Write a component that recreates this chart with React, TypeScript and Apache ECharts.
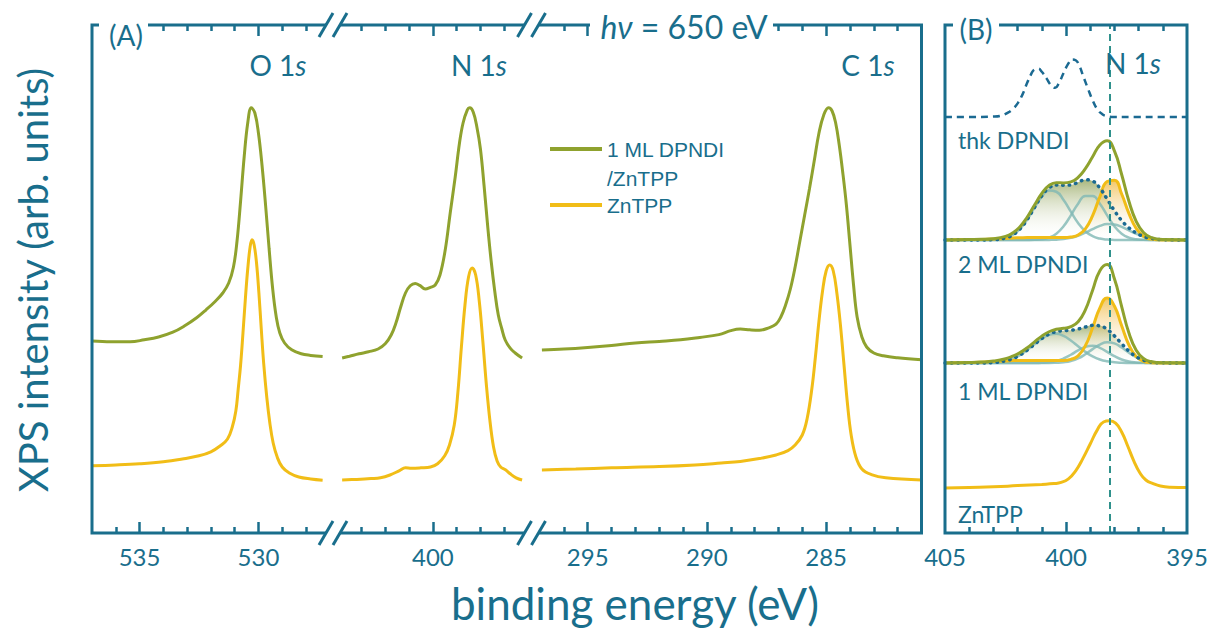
import React, { useEffect, useRef } from "react";
import * as echarts from "echarts";

const TEAL = "#196e8c";
const GREEN = "#8fa22e";
const YELLOW = "#f1bd17";
const DOTTED_BLUE = "#1b6a92";
const COMPONENT = "rgba(128,184,180,0.8)";
const REF_LINE = "#2f918c";
const FONT = "Lato, 'Noto Sans', sans-serif";
const LEGEND_FONT = "'Liberation Sans', Arial, sans-serif";

const NAME_DPNDI = "1 ML DPNDI\n/ZnTPP";
const NAME_ZNTPP = "ZnTPP";

// ---------- Panel A: [binding energy (eV), intensity (arb. units)] ----------
const o1sDpndi = [
  [537.0, 48.0], [536.2, 47.8], [535.4, 47.8], [534.8, 48.3], [534.2, 49.0], [533.6, 50.2],
  [533.1, 51.8], [532.6, 53.8], [532.2, 55.8], [531.8, 58.0], [531.5, 60.0], [531.25, 62.5],
  [531.05, 66.5], [530.9, 73], [530.75, 83], [530.6, 94], [530.45, 102.5], [530.3, 106.3],
  [530.15, 105], [530.0, 100], [529.85, 92], [529.7, 82], [529.55, 71], [529.4, 61],
  [529.25, 54], [529.1, 50], [528.9, 47.5], [528.6, 45.8], [528.2, 44.8], [527.8, 44.4], [527.3, 44.1],
];
const o1sZntpp = [
  [537.0, 16.8], [536.0, 17.0], [535.0, 17.3], [534.0, 17.8], [533.2, 18.5], [532.5, 19.3],
  [532.0, 20.3], [531.6, 21.8], [531.3, 23.5], [531.1, 26.5], [530.95, 30.5], [530.85, 36],
  [530.75, 42], [530.65, 50], [530.55, 58.5], [530.45, 66], [530.35, 71.5], [530.27, 73.3],
  [530.18, 72], [530.08, 67.5], [529.98, 60], [529.88, 51], [529.78, 42.5], [529.65, 34],
  [529.52, 27.5], [529.38, 22.5], [529.2, 18.8], [529.0, 16.5], [528.7, 15.0], [528.3, 14.0],
  [527.8, 13.5], [527.3, 13.2],
];
const n1sDpndi = [
  [403.81, 43.75], [403.5, 44.2], [403.1, 44.8], [402.7, 45.3], [402.3, 46.0], [402.0, 47.3],
  [401.75, 49.5], [401.55, 52.5], [401.35, 56.5], [401.15, 60.0], [400.95, 61.8], [400.74, 62.4],
  [400.55, 61.9], [400.32, 61.0], [400.1, 61.4], [399.9, 62.0], [399.7, 64.5], [399.48, 70.75],
  [399.27, 80], [399.06, 89], [398.88, 97.5], [398.73, 102.5], [398.55, 105.8], [398.45, 106.3],
  [398.3, 105.2], [398.15, 101.5], [398.0, 96], [397.85, 87], [397.7, 77], [397.55, 68],
  [397.4, 60.5], [397.25, 54.5], [397.1, 51], [396.96, 48.25], [396.75, 46.2], [396.54, 45],
  [396.25, 43.75],
];
const n1sZntpp = [
  [403.81, 13.25], [403.2, 13.4], [402.6, 13.6], [402.2, 13.8], [401.8, 14.5], [401.4, 15.6],
  [401.15, 16.3], [400.9, 16.2], [400.5, 16.3], [400.1, 16.5], [399.8, 17.3], [399.5, 19.3],
  [399.3, 22], [399.1, 27], [398.95, 35], [398.8, 46.5], [398.65, 57], [398.5, 64],
  [398.35, 66.25], [398.2, 64.5], [398.05, 58], [397.9, 48], [397.75, 37], [397.6, 28],
  [397.45, 21.5], [397.3, 18], [397.15, 16.5], [396.95, 15.8], [396.75, 14.8], [396.5, 13.8],
  [396.25, 13.25],
];
const c1sDpndi = [
  [296.92, 45.75], [296.0, 46.0], [295.0, 46.4], [294.0, 46.9], [293.0, 47.5], [292.0, 47.9],
  [291.1, 48.3], [290.3, 48.9], [289.5, 49.6], [289.0, 50.6], [288.6, 51.0], [288.2, 50.8],
  [287.8, 50.7], [287.4, 51.3], [287.1, 52.2], [286.9, 54.0], [286.7, 57.0], [286.5, 61],
  [286.3, 66.5], [286.1, 73], [285.9, 79.5], [285.7, 86], [285.5, 93], [285.3, 100],
  [285.1, 104.5], [284.9, 106.3], [284.75, 105.5], [284.6, 102.5], [284.45, 97], [284.3, 90],
  [284.15, 82], [284.0, 72], [283.85, 62], [283.7, 54], [283.5, 49], [283.3, 46.5],
  [283.0, 45.0], [282.6, 44.3], [282.0, 43.8], [281.0, 43.3],
];
const c1sZntpp = [
  [296.92, 15.75], [295.5, 16.0], [294.0, 16.3], [292.0, 16.6], [290.5, 17.0], [289.4, 17.5],
  [288.6, 17.9], [287.8, 18.6], [287.1, 19.5], [286.6, 20.6], [286.3, 22.0], [286.0, 24.5],
  [285.8, 28.5], [285.6, 36], [285.45, 44], [285.3, 53], [285.15, 60.5], [285.0, 65.5],
  [284.85, 67], [284.7, 65.5], [284.55, 60], [284.4, 52], [284.25, 42], [284.1, 32],
  [283.95, 24.5], [283.75, 19], [283.5, 16.0], [283.1, 14.6], [282.5, 13.8], [281.0, 13.25],
];

// axis ranges (eV) for the broken axis of panel A and for panel B
const o1sRange = [527.2, 537];
const n1sRange = [396.17, 403.9];
const c1sRange = [281, 297];
const detailRange = [395, 405];

// tick values
const o1sLabels = [530, 535];
const o1sMinor = [528, 529, 531, 532, 533, 534, 536];
const n1sLabels = [400];
const n1sMinor = [397, 398, 399, 401, 402, 403];
const c1sLabels = [285, 290, 295];
const c1sMinor = [282, 283, 284, 286, 287, 288, 289, 291, 292, 293, 294, 296];
const detailLabels = [395, 400, 405];
const detailMajor = [400];
const detailMinor = [396, 397, 398, 399, 401, 402, 403, 404];

// ---------- Panel B: N 1s detail (intensity above each baseline) ----------
const energyFit = [405, 404, 403.5, 403, 402.5, 402.2, 401.9, 401.6, 401.3, 401.0, 400.7, 400.4, 400.1,
  399.8, 399.5, 399.2, 398.9, 398.6, 398.3, 398.0, 397.7, 397.4, 397.1, 396.8, 396.5, 396, 395];

const ml2Comp1 = [0, 0, 0.01, 0.08, 0.51, 1.29, 2.78, 5.14, 8.09, 10.84, 12.39, 12.06, 10.01, 7.08, 4.26, 2.19, 0.96, 0.36, 0.11, 0.03, 0, 0, 0, 0, 0, 0, 0];
const ml2Comp2 = [0, 0, 0, 0, 0, 0, 0, 0.01, 0.05, 0.19, 0.6, 1.58, 3.43, 6.15, 9.08, 11.03, 11.03, 9.08, 6.15, 3.43, 1.58, 0.6, 0.19, 0.05, 0.01, 0, 0];
const ml2Comp3 = [0, 0, 0, 0, 0, 0, 0, 0, 0, 0, 0.03, 0.09, 0.24, 0.54, 1.07, 1.83, 2.73, 3.53, 3.97, 3.88, 3.29, 2.43, 1.56, 0.86, 0.42, 0.09, 0];
const ml2Sum = [0, 0, 0.01, 0.08, 0.51, 1.29, 2.78, 5.15, 8.14, 11.03, 13.02, 13.73, 13.68, 13.77, 14.41, 15.05, 14.72, 12.97, 10.23, 7.34, 4.87, 3.03, 1.75, 0.91, 0.43, 0.09, 0];
const ml2Zn = [0, 0.1, 0.15, 0.25, 0.4, 0.5, 0.55, 0.6, 0.6, 0.6, 0.6, 0.6, 0.6, 0.75, 1.25, 2.8, 6.1, 10.8, 14.6, 14.95, 11.5, 6.65, 2.9, 0.95, 0.23, 0.01, 0];
const ml2Total = [0, 0.1, 0.16, 0.33, 0.91, 1.79, 3.33, 5.75, 8.74, 11.63, 13.62, 14.33, 14.28, 14.52, 15.66, 17.85, 20.82, 23.77, 24.83, 22.29, 16.37, 9.68, 4.65, 1.86, 0.66, 0.1, 0];

const ml1Comp1 = [0, 0, 0.02, 0.13, 0.55, 1.1, 1.99, 3.23, 4.67, 6.06, 7.02, 7.29, 6.77, 5.62, 4.18, 2.78, 1.66, 0.88, 0.42, 0.18, 0.07, 0.02, 0, 0, 0, 0, 0];
const ml1Comp2 = [0, 0, 0, 0, 0, 0, 0, 0, 0.01, 0.06, 0.19, 0.5, 1.12, 2.06, 3.16, 4.03, 4.29, 3.79, 2.79, 1.71, 0.87, 0.37, 0.13, 0.04, 0, 0, 0];
const ml1Comp3 = [0, 0, 0, 0, 0, 0, 0, 0, 0, 0, 0, 0.06, 0.19, 0.51, 1.15, 2.18, 3.46, 4.62, 5.19, 4.9, 3.88, 2.59, 1.45, 0.68, 0.27, 0.04, 0];
const ml1Sum = [0, 0, 0.02, 0.13, 0.55, 1.1, 1.99, 3.23, 4.68, 6.12, 7.21, 7.85, 8.08, 8.19, 8.49, 8.99, 9.41, 9.29, 8.4, 6.79, 4.82, 2.98, 1.58, 0.72, 0.27, 0.04, 0];
const ml1Zn = [0, 0.1, 0.2, 0.35, 0.5, 0.6, 0.6, 0.6, 0.6, 0.6, 0.6, 0.6, 0.6, 0.9, 1.8, 4.3, 8.8, 13.8, 16.25, 14.25, 9.3, 4.5, 1.62, 0.43, 0.09, 0, 0];
const ml1Total = [0, 0.1, 0.22, 0.48, 1.05, 1.7, 2.59, 3.83, 5.28, 6.72, 7.81, 8.45, 8.68, 9.09, 10.29, 13.29, 18.21, 23.09, 24.65, 21.04, 14.12, 7.48, 3.2, 1.15, 0.36, 0.04, 0];

const energyThk = [405, 404, 403, 402.7, 402.4, 402.2, 402.0, 401.8, 401.6, 401.45, 401.3, 401.15, 401.0, 400.8,
  400.6, 400.45, 400.3, 400.1, 399.9, 399.75, 399.6, 399.45, 399.3, 399.1, 398.9, 398.7, 398.5, 398.3, 398, 397, 396, 395];
const thkValues = [0, 0, 0.1, 0.3, 1.1, 2.0, 3.4, 5.6, 8.6, 10.6, 11.9, 12.1, 11.3, 9.6, 7.8, 7.3, 8.4, 11.0, 13.4,
  14.4, 14.2, 12.8, 10.4, 7.2, 4.2, 1.9, 0.7, 0.2, 0, 0, 0, 0];

const energyZn = [405, 404, 403, 402, 401, 400.5, 400.2, 399.9, 399.6, 399.3, 399.0, 398.7, 398.45, 398.2,
  397.95, 397.7, 397.45, 397.2, 396.95, 396.7, 396.4, 396.1, 395.7, 395];
const znValues = [0, 0.15, 0.3, 0.6, 0.9, 1.1, 1.4, 2.3, 4.3, 7.4, 11.0, 14.6, 16.5, 16.8, 16.2, 14.0, 10.5,
  6.8, 3.8, 2.0, 1.1, 0.5, 0.2, 0.1];

// vertical stacking offsets of the panel B spectra (arb. units)
const offsetThk = 104;
const offset2ml = 73.25;
const offset1ml = 42.5;
const offsetZn = 11.25;
const n1sReference = 398.2;

const Y_MAX = 127;

function shift(xs: number[], ys: number[], off: number) {
  return xs.map((x, i) => [x, ys[i] + off]);
}

const tickLine = { color: TEAL, width: 2.5 };

function xAxesFor(gridIndex: number, range: number[], majors: number[], minors: number[], labels: number[]) {
  const base: any = {
    type: "value", gridIndex, min: range[0], max: range[1], inverse: true,
    axisLine: { show: false, onZero: false }, splitLine: { show: false },
    minorTick: { show: false }, minorSplitLine: { show: false },
  };
  return [
    {
      ...base, position: "bottom",
      axisTick: { show: true, inside: true, length: 11, lineStyle: tickLine, customValues: majors },
      axisLabel: { show: true, customValues: labels, margin: 11, color: TEAL, fontFamily: FONT, fontSize: 24 },
    },
    {
      ...base, position: "bottom",
      axisTick: { show: true, inside: true, length: 6, lineStyle: tickLine, customValues: minors },
      axisLabel: { show: false },
    },
    {
      ...base, position: "top",
      axisTick: { show: true, inside: true, length: 11, lineStyle: tickLine, customValues: majors },
      axisLabel: { show: false },
    },
    {
      ...base, position: "top",
      axisTick: { show: true, inside: true, length: 6, lineStyle: tickLine, customValues: minors },
      axisLabel: { show: false },
    },
  ];
}

function lineSeries(name: string, grid: number, data: number[][], color: string, extra: any = {}) {
  return {
    type: "line", name, xAxisIndex: grid * 4, yAxisIndex: grid, data, symbol: "none", showSymbol: false,
    smooth: 0.4, color, lineStyle: { color, width: 3 }, silent: true, ...extra,
  };
}

function greenGrad() {
  return new echarts.graphic.LinearGradient(0, 0, 0, 1, [
    { offset: 0, color: "rgba(112,136,40,0.6)" },
    { offset: 1, color: "rgba(255,255,255,0)" },
  ]);
}
function yellowGrad() {
  return new echarts.graphic.LinearGradient(0, 0, 0, 1, [
    { offset: 0, color: "rgba(236,168,20,0.65)" },
    { offset: 1, color: "rgba(255,255,255,0)" },
  ]);
}

function fitSeries(prefix: string, comps: number[][], sum: number[], zn: number[], total: number[], off: number) {
  const g = 3;
  return [
    lineSeries(prefix + " DPNDI area", g, shift(energyFit, sum, off), GREEN, {
      lineStyle: { opacity: 0, width: 0 }, areaStyle: { origin: off, color: greenGrad(), opacity: 1 }, smooth: 0.5,
    }),
    ...comps.map((c, k) =>
      lineSeries(prefix + " component " + (k + 1), g, shift(energyFit, c, off), COMPONENT, {
        lineStyle: { color: COMPONENT, width: 2.5 }, smooth: 0.5,
      })
    ),
    lineSeries(prefix + " ZnTPP component", g, shift(energyFit, zn, off), YELLOW, {
      areaStyle: { origin: off, color: yellowGrad(), opacity: 1 }, smooth: 0.5,
    }),
    lineSeries(prefix + " DPNDI sum", g, shift(energyFit, sum, off), DOTTED_BLUE, {
      lineStyle: { color: DOTTED_BLUE, width: 3.5, type: [0.5, 6], cap: "round" }, smooth: 0.5,
    }),
    lineSeries(prefix + " measured", g, shift(energyFit, total, off), GREEN, { smooth: 0.5 }),
  ];
}

function txt(x: number, y: number, text: string, size: number, extra: any = {}, styleExtra: any = {}) {
  return {
    type: "text", z: 13, x, y, ...extra,
    style: {
      text, fill: TEAL, fontFamily: FONT, fontSize: size, align: "center", verticalAlign: "middle", ...styleExtra,
    },
  };
}

function richLabel(x: number, y: number, plain: string, italic: string, size: number, italicFirst = false) {
  const r = { fontSize: size, fontFamily: FONT, fill: TEAL };
  const i = { fontSize: size, fontFamily: FONT, fill: TEAL, fontStyle: "italic" };
  const text = italicFirst ? `{i|${italic}}{r|${plain}}` : `{r|${plain}}{i|${italic}}`;
  return txt(x, y, text, size, {}, { rich: { r, i } });
}

function breakMarks(cx: number) {
  const out: any[] = [];
  [25, 533].forEach((y) => {
    out.push({ type: "rect", z: 11, shape: { x: cx - 7, y: y - 3, width: 14, height: 6 }, style: { fill: "#fff" } });
    out.push({ type: "line", z: 12, shape: { x1: cx - 14, y1: y + 12, x2: cx, y2: y - 12 }, style: { stroke: TEAL, lineWidth: 3 } });
    out.push({ type: "line", z: 12, shape: { x1: cx, y1: y + 12, x2: cx + 14, y2: y - 12 }, style: { stroke: TEAL, lineWidth: 3 } });
  });
  return out;
}

function buildOption() {
  const gridBase = { top: 25, height: 508, containLabel: false, outerBoundsMode: "none", show: false };
  const grid = [
    { ...gridBase, left: 92, width: 233 },
    { ...gridBase, left: 340, width: 184 },
    { ...gridBase, left: 540, width: 381.5 },
    { ...gridBase, left: 945, width: 242 },
  ];
  const xAxis = [
    ...xAxesFor(0, o1sRange, o1sLabels, o1sMinor, o1sLabels),
    ...xAxesFor(1, n1sRange, n1sLabels, n1sMinor, n1sLabels),
    ...xAxesFor(2, c1sRange, c1sLabels, c1sMinor, c1sLabels),
    ...xAxesFor(3, detailRange, detailMajor, detailMinor, detailLabels),
  ];
  const yAxis = [0, 1, 2, 3].map((g) => ({ type: "value", gridIndex: g, min: 0, max: Y_MAX, show: false }));

  const series: any[] = [
    lineSeries(NAME_DPNDI, 0, o1sDpndi, GREEN),
    lineSeries(NAME_ZNTPP, 0, o1sZntpp, YELLOW),
    lineSeries(NAME_DPNDI, 1, n1sDpndi, GREEN),
    lineSeries(NAME_ZNTPP, 1, n1sZntpp, YELLOW),
    lineSeries(NAME_DPNDI, 2, c1sDpndi, GREEN),
    lineSeries(NAME_ZNTPP, 2, c1sZntpp, YELLOW),
    lineSeries("thk DPNDI", 3, shift(energyThk, thkValues, offsetThk), DOTTED_BLUE, {
      lineStyle: { color: DOTTED_BLUE, width: 2.5, type: [7, 5] }, smooth: 0.5,
    }),
    ...fitSeries("2 ML DPNDI", [ml2Comp1, ml2Comp2, ml2Comp3], ml2Sum, ml2Zn, ml2Total, offset2ml),
    ...fitSeries("1 ML DPNDI", [ml1Comp1, ml1Comp2, ml1Comp3], ml1Sum, ml1Zn, ml1Total, offset1ml),
    lineSeries(NAME_ZNTPP, 3, shift(energyZn, znValues, offsetZn), YELLOW, {
      smooth: 0.5,
      markLine: {
        silent: true, symbol: "none", animation: false,
        lineStyle: { color: REF_LINE, width: 2, type: [7, 5] },
        label: { show: false },
        data: [{ xAxis: n1sReference }],
      },
    }),
  ];

  const graphic: any[] = [
    { type: "rect", z: 10, shape: { x: 92, y: 25, width: 829.5, height: 508 }, style: { fill: "none", stroke: TEAL, lineWidth: 3 } },
    { type: "rect", z: 10, shape: { x: 945, y: 25, width: 242, height: 508 }, style: { fill: "none", stroke: TEAL, lineWidth: 3 } },
    { type: "rect", z: 11, shape: { x: 99, y: 10, width: 49, height: 32 }, style: { fill: "#fff" } },
    { type: "rect", z: 11, shape: { x: 590, y: 8, width: 183, height: 34 }, style: { fill: "#fff" } },
    { type: "rect", z: 11, shape: { x: 953, y: 8, width: 46, height: 34 }, style: { fill: "#fff" } },
    ...breakMarks(333),
    ...breakMarks(531.5),
    txt(126, 35, "(A)", 28),
    txt(976, 29, "(B)", 28),
    richLabel(684, 26, " = 650 eV", "hν", 32, true),
    richLabel(278, 65, "O 1", "s", 28),
    richLabel(479, 65, "N 1", "s", 28),
    richLabel(868, 65, "C 1", "s", 28),
    richLabel(1133, 63, "N 1", "s", 28),
    txt(958, 140, "thk DPNDI", 23, {}, { align: "left" }),
    txt(958, 264, "2 ML DPNDI", 23, {}, { align: "left" }),
    txt(958, 391, "1 ML DPNDI", 23, {}, { align: "left" }),
    txt(958, 514, "ZnTPP", 23, {}, { align: "left" }),
    txt(635, 603, "binding energy (eV)", 44),
    txt(33, 280, "XPS intensity (arb. units)", 40, { rotation: Math.PI / 2 }),
  ];

  const legendRich = {
    p: { fontSize: 21, lineHeight: 29, fontFamily: LEGEND_FONT, color: TEAL },
    t: { fontSize: 21, lineHeight: 29, fontFamily: LEGEND_FONT, color: TEAL },
  };

  return {
    animation: false,
    backgroundColor: "#ffffff",
    grid,
    xAxis,
    yAxis,
    legend: {
      left: 550, top: 105.5, orient: "vertical", itemGap: -2, itemWidth: 52, itemHeight: 4, icon: "rect",
      padding: 0, selectedMode: false,
      textStyle: { color: TEAL, fontFamily: LEGEND_FONT, fontSize: 21, lineHeight: 29, rich: legendRich },
      formatter: (name: string) =>
        name
          .split("\n")
          .reduce((acc: string[], line: string) => acc.concat(`{t|${line}}`), name.includes("\n") ? ["{p| }"] : [])
          .join("\n"),
      data: [{ name: NAME_DPNDI }, { name: NAME_ZNTPP }],
    },
    series,
    graphic,
  };
}

export default function App() {
  const ref = useRef<HTMLDivElement>(null);
  useEffect(() => {
    if (!ref.current) return;
    const chart = echarts.init(ref.current, undefined, { renderer: "svg" });
    chart.setOption(buildOption() as any);
    return () => chart.dispose();
  }, []);
  return (
    <div
      ref={ref}
      style={{ position: "absolute", left: 0, top: 0, width: 1207, height: 628, background: "#fff" }}
    />
  );
}
